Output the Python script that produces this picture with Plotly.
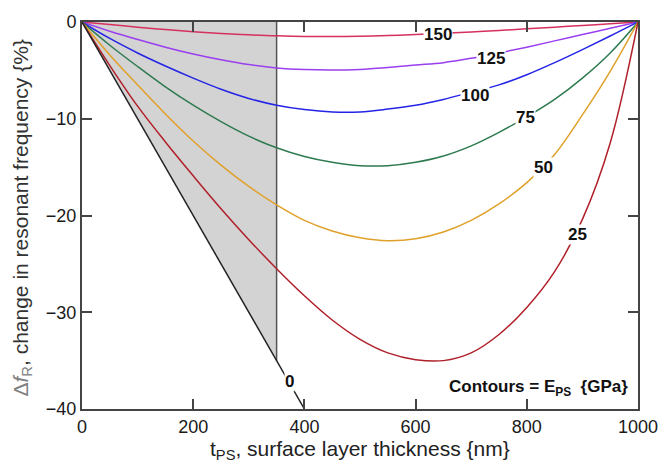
import numpy as np
import plotly.graph_objects as go

# ---- data ----
E_labels = ["150", "125", "100", "75", "50", "25", "0"]

# surface layer thickness samples {nm}
t_nm = [0, 50, 100, 150, 200, 250, 300, 350, 400, 450, 500,
        550, 600, 650, 700, 750, 800, 850, 900, 950, 1000]

# change in resonant frequency {%} for each E_PS contour
df_150 = [0, -0.27, -0.53, -0.78, -1.0, -1.18, -1.33, -1.43, -1.49, -1.5, -1.46,
          -1.4, -1.3, -1.18, -1.03, -0.87, -0.7, -0.53, -0.36, -0.18, 0]
df_125 = [0, -0.95, -1.8, -2.6, -3.3, -3.9, -4.4, -4.75, -4.92, -4.97, -4.9,
          -4.7, -4.45, -4.2, -3.75, -3.2, -2.6, -1.95, -1.3, -0.65, 0]
df_100 = [0, -1.7, -3.2, -4.55, -5.8, -6.95, -7.9, -8.6, -9.05, -9.3, -9.3,
          -9.0, -8.6, -8.0, -7.25, -6.5, -5.45, -4.2, -2.85, -1.45, 0]
df_75 = [0, -2.4, -4.6, -6.7, -8.6, -10.3, -11.8, -13.0, -13.9, -14.5, -14.85,
         -14.85, -14.5, -13.85, -12.8, -11.4, -9.8, -8.0, -5.8, -3.2, 0]
df_50 = [0, -3.4, -6.5, -9.5, -12.3, -14.8, -17.0, -18.9, -20.5, -21.6, -22.3,
         -22.6, -22.4, -21.7, -20.5, -18.8, -16.6, -13.7, -9.6, -5.1, 0]
df_25 = [0, -4.5, -8.7, -12.4, -15.9, -19.3, -22.5, -25.5, -28.3, -30.8, -32.8,
         -34.2, -34.9, -35.0, -34.2, -32.3, -29.5, -25.8, -20.4, -12.5, 0]

# E_PS = 0 contour (straight line)
t_0 = [0, 400]
df_0 = [0, -40]

cutoff_t = 350  # thickness limit of shaded region {nm}

# contour label anchor points (data units)
label_x = [641, 736, 706, 798, 830, 891, 373]
label_y = [-1.33, -3.75, -7.6, -9.9, -15.04, -22.0, -37.15]

x_ticks = [0, 200, 400, 600, 800, 1000]
y_ticks = [0, -10, -20, -30, -40]

# ---- styling ----
colors = ["#d6305f", "#9a3ef0", "#2424e6", "#2e7a50", "#e0a12a", "#b0202a", "#222222"]
FONT = "Arial, Liberation Sans, sans-serif"
AX = "#444444"

series = [(t_nm, df_150), (t_nm, df_125), (t_nm, df_100), (t_nm, df_75),
          (t_nm, df_50), (t_nm, df_25), (t_0, df_0)]

fig = go.Figure()

# shaded region: under the E=0 line up to cutoff thickness
y_cut = float(np.interp(cutoff_t, t_0, df_0))
fig.add_trace(go.Scatter(
    x=[0, cutoff_t, cutoff_t, 0], y=[0, y_cut, 0, 0],
    fill="toself", fillcolor="#d3d3d3", line=dict(width=0),
    mode="lines", hoverinfo="skip", showlegend=False))
fig.add_trace(go.Scatter(
    x=[cutoff_t, cutoff_t], y=[0, y_cut], mode="lines",
    line=dict(color="#555555", width=1.5), showlegend=False))

for (xs, ys), c in zip(series, colors):
    fig.add_trace(go.Scatter(
        x=xs, y=ys, mode="lines",
        line=dict(color=c, width=1.5, shape="spline", smoothing=1.0),
        showlegend=False))

for lab, lx, ly in zip(E_labels, label_x, label_y):
    fig.add_annotation(x=lx, y=ly, text="<b>%s</b>" % lab, showarrow=False,
                       font=dict(family=FONT, size=17, color="#111111"),
                       bgcolor="white", borderpad=0)

fig.add_annotation(x=985, y=-37.8, xanchor="right", yanchor="middle",
                   text="<b>Contours = E<sub>PS</sub>  {GPa}</b>", showarrow=False,
                   font=dict(family=FONT, size=17, color="#111111"))

# axis titles
fig.add_annotation(xref="paper", yref="paper", x=0, y=0.5, xshift=-61, yshift=-3,
                   textangle=-90, showarrow=False, xanchor="center", yanchor="middle",
                   text="<span style='color:#808080'>Δ<i>f</i><sub>R</sub></span>, change in resonant frequency {%}",
                   font=dict(family=FONT, size=21, color="#333333"))
fig.add_annotation(xref="paper", yref="paper", x=0.5, y=0, yshift=-41,
                   showarrow=False, xanchor="center", yanchor="middle",
                   text="t<sub>PS</sub>, surface layer thickness {nm}",
                   font=dict(family=FONT, size=21, color="#222222"))

axis_common = dict(showline=True, linecolor=AX, linewidth=2, mirror="ticks",
                   ticks="inside", ticklen=10, tickwidth=1.5, tickcolor=AX,
                   showgrid=False, zeroline=False,
                   tickfont=dict(family=FONT, size=18, color="#1a1a1a"))

fig.update_xaxes(range=[0, 1000], tickvals=x_ticks, **axis_common)
fig.update_yaxes(range=[-40, 0], tickvals=y_ticks, **axis_common)

fig.update_layout(width=670, height=466, margin=dict(l=82, r=24, t=15, b=57),
                  paper_bgcolor="white", plot_bgcolor="white",
                  font=dict(family=FONT))

fig.write_html("out.html")
